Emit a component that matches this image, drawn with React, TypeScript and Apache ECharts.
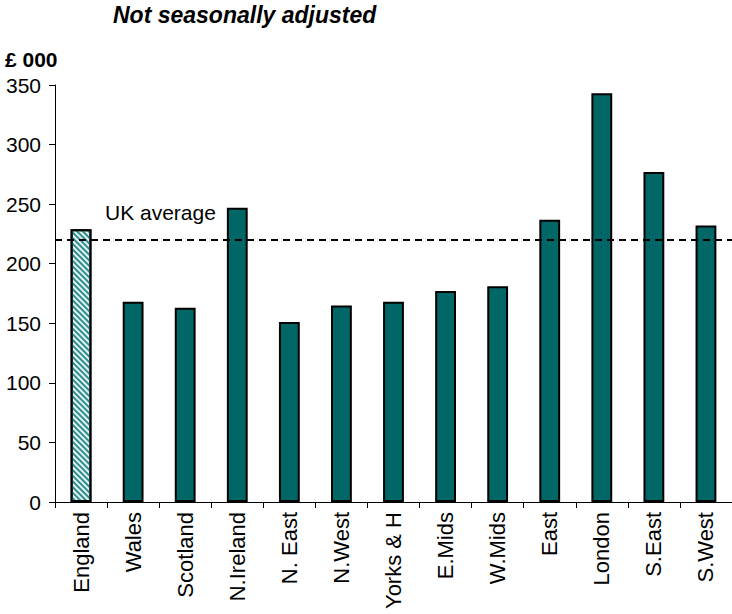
import React, { useEffect, useRef } from "react";
import * as echarts from "echarts";

const categories = ["England", "Wales", "Scotland", "N.Ireland", "N. East", "N.West", "Yorks & H", "E.Mids", "W.Mids", "East", "London", "S.East", "S.West"];
const prices = [229, 168, 163, 247, 151, 165, 168, 177, 181, 237, 343, 277, 232];
const ukAverage = 220;
const yTicks = { min: 0, max: 350, interval: 50 };
const titleText = "Not seasonally adjusted";
const unitText = "£ 000";
const avgLabel = "UK average";

export default function App() {
  const ref = useRef<HTMLDivElement>(null);
  useEffect(() => {
    const chart = echarts.init(ref.current!, null, { renderer: "svg" });
    const font = "Liberation Sans, Arial, sans-serif";
    chart.setOption({
      animation: false,
      grid: { left: 55, right: 0, top: 85, bottom: 112 },
      graphic: [
        { type: "text", left: 113, top: 3, style: { text: titleText, font: `italic bold 23px ${font}`, fill: "#000" } },
        { type: "text", left: 5, top: 49, style: { text: unitText, font: `bold 21px ${font}`, fill: "#000" } },
        { type: "text", left: 105, top: 202, style: { text: avgLabel, font: `21px ${font}`, fill: "#000" } },
      ],
      xAxis: {
        type: "category",
        data: categories,
        boundaryGap: true,
        axisLine: { lineStyle: { color: "#000", width: 1 } },
        axisTick: { show: true, length: 6, alignWithLabel: false, lineStyle: { color: "#000" } },
        axisLabel: { rotate: 90, color: "#000", fontSize: 22, fontFamily: font, margin: 10, interval: 0 },
      },
      yAxis: {
        type: "value",
        min: yTicks.min,
        max: yTicks.max,
        interval: yTicks.interval,
        axisLine: { show: true, lineStyle: { color: "#000", width: 1 } },
        axisTick: { show: true, length: 6, lineStyle: { color: "#000" } },
        axisLabel: { color: "#000", fontSize: 21, fontFamily: font, margin: 14 },
        splitLine: { show: false },
      },
      series: [
        {
          type: "bar",
          barWidth: "40%",
          data: prices.map((v, i) =>
            i === 0
              ? {
                  value: v,
                  itemStyle: {
                    color: "#e4f2f2",
                    borderColor: "#000",
                    borderWidth: 2,
                    decal: {
                      symbol: "rect",
                      color: "#2f8f8f",
                      dashArrayX: [1, 0],
                      dashArrayY: [2, 2],
                      rotation: Math.PI / 4,
                      symbolSize: 1,
                    },
                  },
                }
              : v
          ),
          itemStyle: { color: "#006666", borderColor: "#000", borderWidth: 2 },
          markLine: {
            silent: true,
            symbol: "none",
            label: { show: false },
            lineStyle: { color: "#000", type: [7, 5], width: 2 },
            data: [{ yAxis: ukAverage }],
          },
        },
      ],
    });
    return () => chart.dispose();
  }, []);
  return <div ref={ref} style={{ position: "absolute", left: 0, top: 0, width: 732, height: 614 }} />;
}
